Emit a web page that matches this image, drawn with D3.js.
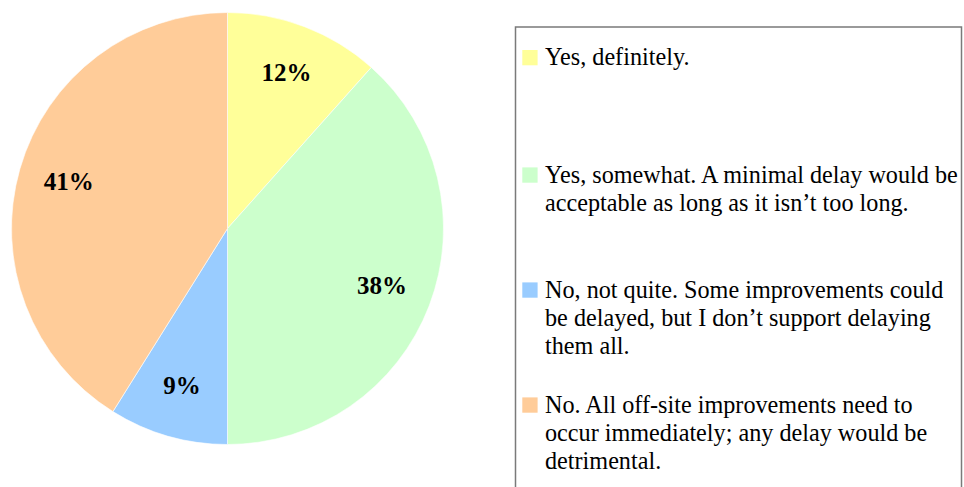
<!DOCTYPE html>
<html>
<head>
<meta charset="utf-8">
<script src="https://cdn.jsdelivr.net/npm/d3@7"></script>
<style>
  html, body { margin: 0; padding: 0; background: #fff; }
  svg { display: block; }
</style>
</head>
<body>
<svg id="chart" width="964" height="487"></svg>
<script>
const categories = [
  "Yes, definitely.",
  "Yes, somewhat. A minimal delay would be acceptable as long as it isn’t too long.",
  "No, not quite. Some improvements could be delayed, but I don’t support delaying them all.",
  "No. All off-site improvements need to occur immediately; any delay would be detrimental."
];
const legendLines = [
  ["Yes, definitely."],
  ["Yes, somewhat. A minimal delay would be", "acceptable as long as it isn’t too long."],
  ["No, not quite. Some improvements could", "be delayed, but I don’t support delaying", "them all."],
  ["No. All off-site improvements need to", "occur immediately; any delay would be", "detrimental."]
];
const values = [11.6, 38.4, 8.9, 41.1];
const percentLabels = ["12%", "38%", "9%", "41%"];
const colors = ["#FFFF99", "#CCFFCC", "#99CCFF", "#FFCC99"];

const svg = d3.select("#chart");
const cx = 227.5, cy = 228.5, R = 216;

const pie = d3.pie().sort(null).value(d => d)(values);
const arc = d3.arc().innerRadius(0).outerRadius(R);
const labelArc = d3.arc().innerRadius(R * 0.765).outerRadius(R * 0.765);

const g = svg.append("g").attr("transform", `translate(${cx},${cy})`);
g.selectAll("path.slice").data(pie).join("path")
  .attr("class", "slice")
  .attr("d", arc)
  .attr("fill", (d, i) => colors[i])
  .attr("stroke", "#ffffff")
  .attr("stroke-width", 0.6);

g.selectAll("text.pct").data(pie).join("text")
  .attr("class", "pct")
  .attr("x", d => labelArc.centroid(d)[0])
  .attr("y", d => labelArc.centroid(d)[1] + 7)
  .attr("text-anchor", "middle")
  .attr("font-family", "'Liberation Serif', 'Times New Roman', serif")
  .attr("font-weight", "bold")
  .attr("font-size", 25)
  .attr("fill", "#000")
  .text((d, i) => percentLabels[i]);

// Legend
const box = { x: 515.5, y: 27, w: 446, h: 480 };
svg.append("rect")
  .attr("x", box.x).attr("y", box.y)
  .attr("width", box.w).attr("height", box.h)
  .attr("fill", "#fff")
  .attr("stroke", "#7a7a7a")
  .attr("stroke-width", 1.5);

const baselines = [65.3, 182.7, 297.7, 412.7];
const lineH = 28;
const legend = svg.append("g");
categories.forEach((c, i) => {
  const item = legend.append("g");
  item.append("rect")
    .attr("x", 522.3).attr("y", baselines[i] - 15.3)
    .attr("width", 15.3).attr("height", 15.3)
    .attr("fill", colors[i]);
  const t = item.append("text")
    .attr("font-family", "'Liberation Serif', 'Times New Roman', serif")
    .attr("font-size", 24.2)
    .attr("fill", "#000");
  legendLines[i].forEach((ln, j) => {
    t.append("tspan").attr("x", 545).attr("y", baselines[i] + j * lineH).text(ln);
  });
});
</script>
</body>
</html>
